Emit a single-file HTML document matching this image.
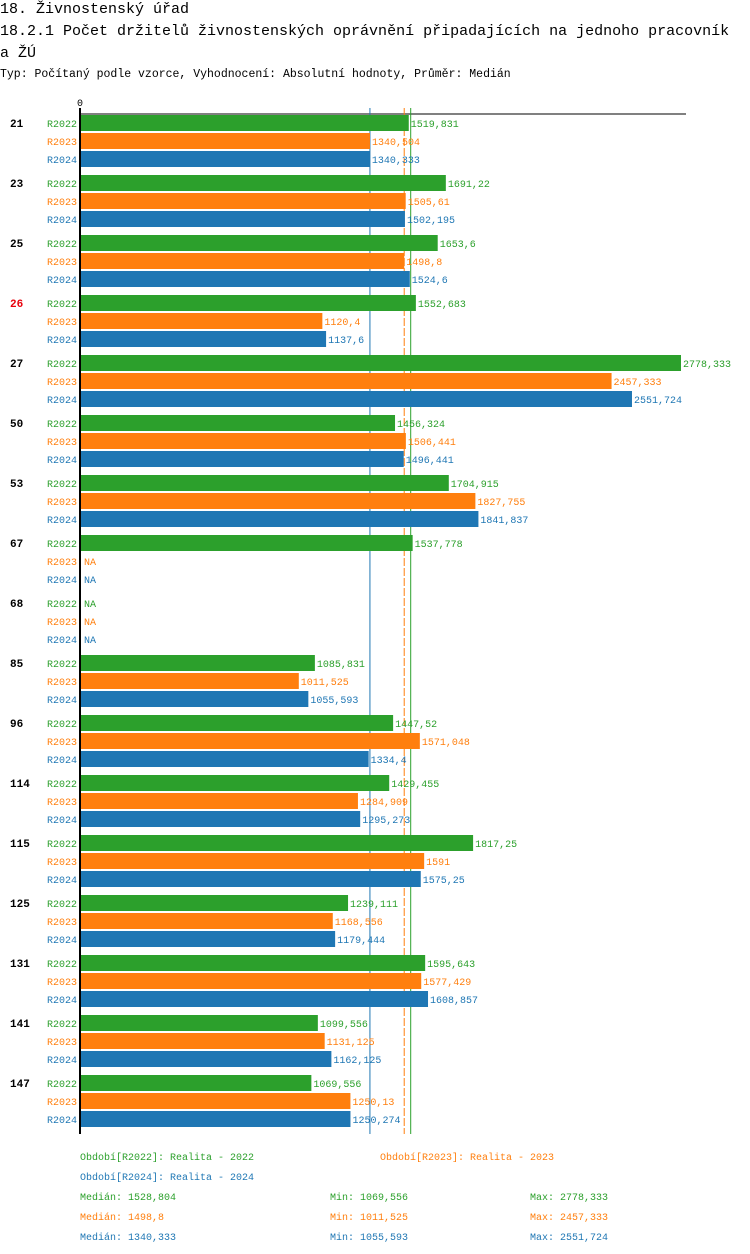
<!DOCTYPE html>
<html><head><meta charset="utf-8">
<style>
html,body{margin:0;padding:0;background:#fff;width:750px;height:1254px;overflow:hidden}
svg{display:block;font-family:"Liberation Mono","DejaVu Sans Mono",monospace}
</style></head>
<body>
<svg id="c" width="750" height="1254">
<text x="0" y="13" font-size="15" fill="#000">18. Živnostenský úřad</text>
<text x="0" y="35" font-size="15" fill="#000">18.2.1 Počet držitelů živnostenských oprávnění připadajících na jednoho pracovník</text>
<text x="0" y="57" font-size="15" fill="#000">a ŽÚ</text>
<text x="0" y="77" font-size="11.5" fill="#000">Typ: Počítaný podle vzorce, Vyhodnocení: Absolutní hodnoty, Průměr: Medián</text>
<g id="g"></g>
</svg>
<script>
const categories=["21","23","25","26","27","50","53","67","68","85","96","114","115","125","131","141","147"];
const highlighted=["26"];
const seriesNames=["R2022","R2023","R2024"];
const s2022=[1519.831,1691.22,1653.6,1552.683,2778.333,1456.324,1704.915,1537.778,null,1085.831,1447.52,1429.455,1817.25,1239.111,1595.643,1099.556,1069.556];
const s2023=[1340.504,1505.61,1498.8,1120.4,2457.333,1506.441,1827.755,null,null,1011.525,1571.048,1284.909,1591,1168.556,1577.429,1131.125,1250.13];
const s2024=[1340.333,1502.195,1524.6,1137.6,2551.724,1496.441,1841.837,null,null,1055.593,1334.4,1295.273,1575.25,1179.444,1608.857,1162.125,1250.274];
const medians=[1528.804,1498.8,1340.333];
const mins=[1069.556,1011.525,1055.593];
const maxs=[2778.333,2457.333,2551.724];
const legendLabels=["Období[R2022]: Realita - 2022","Období[R2023]: Realita - 2023","Období[R2024]: Realita - 2024"];
const colors=["#2ca02c","#ff7f0e","#1f77b4"];
const series=[s2022,s2023,s2024];
const NS="http://www.w3.org/2000/svg";
const g=document.getElementById('g');
const X0=80, X1=681, vmax=2778.333;
const x=v=>X0+(v/vmax)*(X1-X0);
const Y0=115, barH=16, pitch=18, gpitch=60;
const y=(ci,si)=>Y0+ci*gpitch+si*pitch;
const fmt=v=>String(v).replace('.',',');
function el(t,a,txt){const e=document.createElementNS(NS,t);for(const k in a)e.setAttribute(k,a[k]);if(txt!=null)e.textContent=txt;g.appendChild(e);return e;}
const yEnd=y(categories.length-1,2)+barH+7;
let e=el('line',{x1:X0,y1:114,x2:686,y2:114,stroke:'#000','stroke-width':1});


e=el('text',{x:77,y:106,'font-size':10,fill:'#000'},'0');


medians.forEach((m,i)=>{
  const a={x1:x(m),y1:108,x2:x(m),y2:yEnd,stroke:colors[i],'stroke-width':1};
  if(i==1)a['stroke-dasharray']='8,2';
  e=el('line',a);
  
  
});
categories.forEach((c,ci)=>{
  e=el('text',{x:10,y:y(ci,0)+12,'font-size':11,'font-weight':'bold',fill:highlighted.includes(c)?'#e8000b':'#000'},c);
  
  
  series.forEach((s,si)=>{
    const yy=y(ci,si);
    e=el('text',{x:77,y:yy+12,'font-size':10,fill:colors[si],'text-anchor':'end'},seriesNames[si]);
    
    
    const v=s[ci];
    if(v==null){
      e=el('text',{x:84,y:yy+12,'font-size':10,fill:colors[si]},'NA');
      
      
    }else{
      e=el('rect',{x:X0,y:yy,width:x(v)-X0,height:barH,fill:colors[si]});
      
      
      e=el('text',{x:x(v)+2,y:yy+12,'font-size':10,fill:colors[si]},fmt(v));
      
      
    }
  });
});
e=el('line',{x1:X0,y1:108,x2:X0,y2:yEnd,stroke:'#000','stroke-width':2});


const lp=[[80,1160],[380,1160],[80,1180]];
legendLabels.forEach((t,i)=>{
  e=el('text',{x:lp[i][0],y:lp[i][1],'font-size':10,fill:colors[i]},t);
  
  
});
for(let i=0;i<3;i++){
  const yy=1200+i*20;
  e=el('text',{x:80,y:yy,'font-size':10,fill:colors[i]},'Medián: '+fmt(medians[i]));
  
  
  e=el('text',{x:330,y:yy,'font-size':10,fill:colors[i]},'Min: '+fmt(mins[i]));
  
  
  e=el('text',{x:530,y:yy,'font-size':10,fill:colors[i]},'Max: '+fmt(maxs[i]));
  
  
}
</script>
</body></html>
